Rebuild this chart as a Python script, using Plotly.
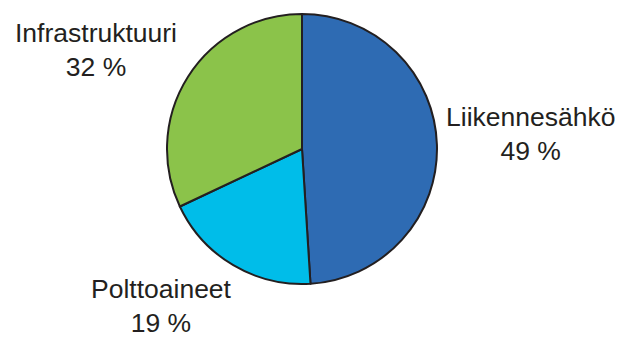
import plotly.graph_objects as go

# Cost shares by category
categories = ["Liikennesähkö", "Polttoaineet", "Infrastruktuuri"]
shares = [49, 19, 32]
colors = ["#2E6BB3", "#00BDE9", "#8BC34A"]

W, H = 620, 340
cx, cy, r = 302, 149, 135

fig = go.Figure(
    go.Pie(
        labels=categories,
        values=shares,
        sort=False,
        direction="clockwise",
        rotation=0,
        textinfo="none",
        hoverinfo="label+percent",
        marker=dict(colors=colors, line=dict(color="#231F20", width=2)),
        domain=dict(
            x=[(cx - r) / W, (cx + r) / W],
            y=[(H - (cy + r)) / H, (H - (cy - r)) / H],
        ),
    )
)

# Outside labels: name and share in percent
label_pos = {
    "Infrastruktuuri": (96, 50),
    "Liikennesähkö": (530, 134),
    "Polttoaineet": (161, 306),
}
for name, val in zip(categories, shares):
    x, y = label_pos[name]
    fig.add_annotation(
        x=x / W, y=1 - y / H, xref="paper", yref="paper",
        text=f"{name}<br>{val} %", showarrow=False,
        xanchor="center", yanchor="middle", align="center",
        font=dict(family="Liberation Sans, Arial, sans-serif", size=26.5, color="#231F20"),
    )

fig.update_layout(
    width=W, height=H,
    margin=dict(l=0, r=0, t=0, b=0),
    showlegend=False,
    paper_bgcolor="white",
    plot_bgcolor="white",
)

fig.write_html("out.html")
